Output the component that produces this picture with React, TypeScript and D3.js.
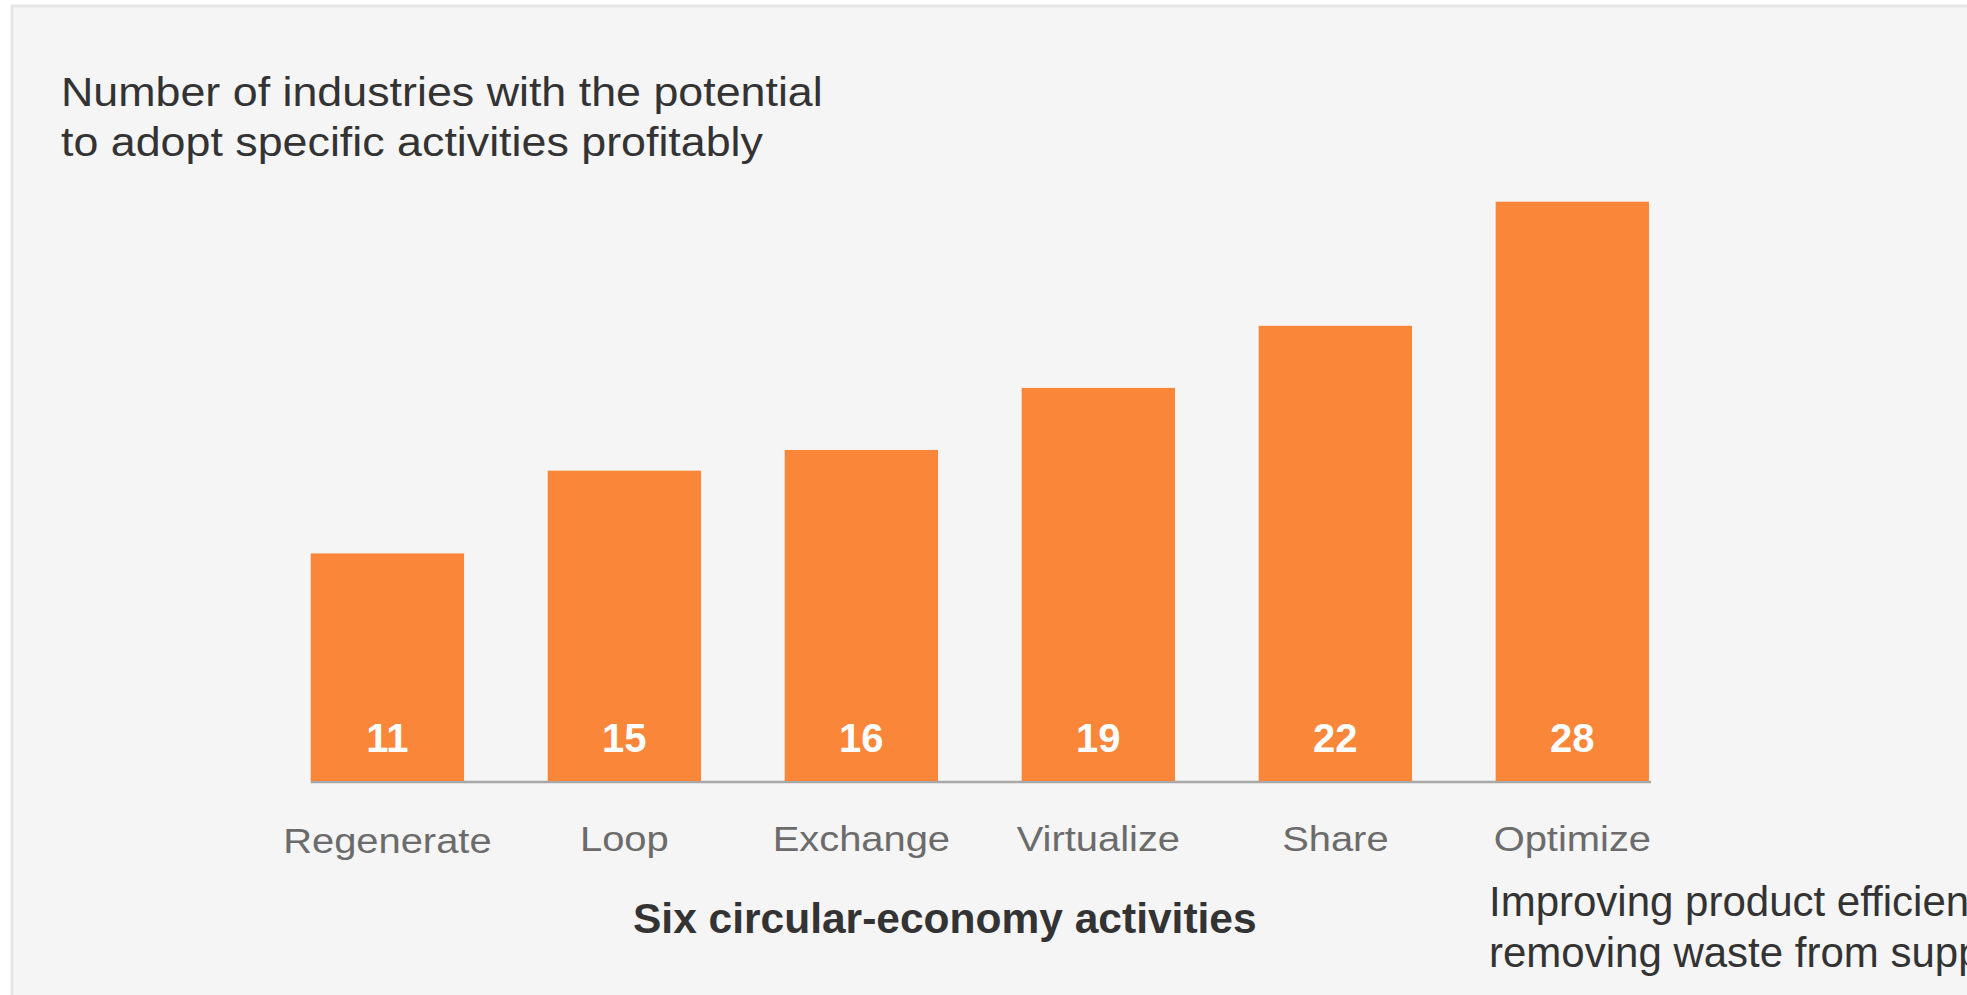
import React from "react";
import * as d3 from "d3";

const categories = ["Regenerate", "Loop", "Exchange", "Virtualize", "Share", "Optimize"];
const values = [11, 15, 16, 19, 22, 28];
const titleLines = ["Number of industries with the potential", "to adopt specific activities profitably"];
const axisTitle = "Six circular-economy activities";
const noteLines = ["Improving product efficiency and", "removing waste from supply chains"];

const W = 1967;
const H = 995;
const FONT = "'Liberation Sans', Arial, Helvetica, sans-serif";

export default function App() {
  const x = d3
    .scaleBand<string>()
    .domain(categories)
    .range([310.7, 1649])
    .paddingInner(0.353)
    .paddingOuter(0);
  const y = d3.scaleLinear().domain([0, 28]).range([781, 201.7]);

  return (
    <svg
      width={W}
      height={H}
      style={{ position: "absolute", left: 0, top: 0, display: "block" }}
      fontFamily={FONT}
    >
      <rect x={0} y={0} width={W} height={H} fill="#ffffff" />
      <rect x={12} y={6} width={W + 20} height={H + 20} fill="#f5f5f5" stroke="#e6e6e6" strokeWidth={3} />

      {titleLines.map((t, i) => (
        <text
          key={t}
          transform={`translate(61, ${106 + i * 49.5}) scale(1.12, 1)`}
          fontSize={40}
          fill="#333333"
        >
          {t}
        </text>
      ))}

      <line x1={x(categories[0])!} x2={x(categories[categories.length - 1])! + x.bandwidth() + 2} y1={782} y2={782} stroke="#a8a8a8" strokeWidth={2.5} />

      {categories.map((c, i) => (
        <g key={c}>
          <rect x={x(c)!} y={y(values[i])} width={x.bandwidth()} height={y(0) - y(values[i])} fill="#fa8639" />
          <text
            x={x(c)! + x.bandwidth() / 2}
            y={752}
            textAnchor="middle"
            fontSize={40}
            fontWeight="bold"
            fill="#ffffff"
          >
            {values[i]}
          </text>
          <text
            transform={`translate(${x(c)! + x.bandwidth() / 2}, ${i === 0 ? 853 : 851}) scale(1.14, 1)`}
            textAnchor="middle"
            fontSize={35}
            fill="#6b6b6b"
          >
            {c}
          </text>
        </g>
      ))}

      <text x={633} y={933} fontSize={42.5} fontWeight="bold" fill="#333333">
        {axisTitle}
      </text>

      {noteLines.map((t, i) => (
        <text key={t} x={1489} y={916 + i * 51} fontSize={42} fill="#333333">
          {t}
        </text>
      ))}
    </svg>
  );
}
